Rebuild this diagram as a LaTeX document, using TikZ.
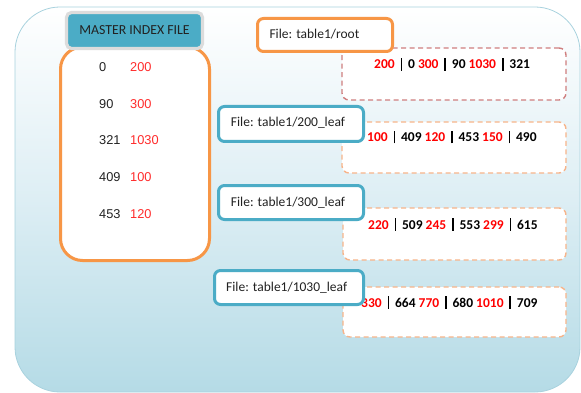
\documentclass[tikz,border=0pt]{standalone}
\usepackage{fontspec}
\setmainfont{Carlito}
\newfontfamily\numfont{Liberation Sans}
\usetikzlibrary{shadows}
\definecolor{orng}{HTML}{F79646}
\definecolor{blu}{HTML}{4BACC6}
\definecolor{bgblue}{HTML}{B5DBE6}
\definecolor{bgmid}{HTML}{DDEEF4}
\definecolor{bgline}{HTML}{A8D2DE}
\definecolor{rd}{HTML}{FF0000}
\definecolor{mrd}{HTML}{FF2A2A}
\definecolor{dashred}{HTML}{CF7E7E}
\definecolor{dashorng}{HTML}{F7B48A}
\definecolor{hdrgray}{HTML}{DCDCDC}
\definecolor{txt}{HTML}{222222}
\newcommand\myvbar{\hspace{2.8pt}\rule[-1.8pt]{1.7pt}{12.5pt}\hspace{2.8pt}}
\tikzset{
  filebox/.style={draw=blu, line width=3pt, fill=white, rounded corners=6pt, inner sep=0pt},
  rootbox/.style={draw=orng, line width=3pt, fill=white, rounded corners=6pt, inner sep=0pt},
  dashbox/.style={line width=1.4pt, dash pattern=on 5pt off 3.5pt, fill=white, rounded corners=7pt, inner sep=0pt},
  lbl/.style={anchor=base west, inner sep=0pt, font=\fontsize{13.5}{15}\selectfont, text=txt},
  nums/.style={anchor=base west, inner sep=0pt, font=\fontsize{13.5}{15}\selectfont\bfseries, text=black},
  mnum/.style={anchor=base west, inner sep=0pt, font=\numfont\fontsize{12.8}{14}\selectfont, text=txt},
  mred/.style={anchor=base west, inner sep=0pt, font=\numfont\fontsize{12.8}{14}\selectfont, text=mrd},
}
\begin{document}
\begin{tikzpicture}[x=1pt,y=-1pt]
\useasboundingbox (0,0) rectangle (581,393);
% background
\path[draw=bgline, line width=0.8pt, top color=white, bottom color=bgblue, middle color=bgmid, rounded corners=45pt]
  (15,7) rectangle (580,392);
% master index
\node[name=master, draw=orng, line width=3pt, fill=white, rounded corners=22pt, minimum width=149pt, minimum height=213.5pt, inner sep=0pt] at (135,153.75) {};
\node[name=header, draw=hdrgray, line width=3.2pt, fill=blu, rounded corners=5pt, minimum width=136pt, minimum height=36pt, inner sep=0pt,
  drop shadow={opacity=0.25, shadow xshift=0.8pt, shadow yshift=-1.2pt}] at (134.5,30.5) {};
\node[name=headertext, anchor=base, inner sep=0pt, font=\fontsize{13.8}{15}\selectfont, text=txt] at (134.5,35) {MASTER INDEX FILE};
\node[mnum, name=ma] at (99,72) {0};
\node[mred, name=mb] at (130,72) {200};
\node[mnum, name=mc] at (99,108.5) {90};
\node[mred, name=md] at (130,108.5) {300};
\node[mnum, name=me] at (99,145) {321};
\node[mred, name=mf] at (130,145) {1030};
\node[mnum, name=mg] at (99,181.5) {409};
\node[mred, name=mh] at (130,181.5) {100};
\node[mnum, name=mi] at (99,218) {453};
\node[mred, name=mj] at (130,218) {120};
% dashed boxes
\node[dashbox, draw=dashred, name=rootd, minimum width=224pt, minimum height=52pt] at (454,74) {};
\node[dashbox, draw=dashorng, name=d200, minimum width=224pt, minimum height=51pt] at (454,147.5) {};
\node[dashbox, draw=dashorng, name=d300, minimum width=223pt, minimum height=52pt] at (454.5,234) {};
\node[dashbox, draw=dashorng, name=d1030, minimum width=223pt, minimum height=50pt] at (454.5,312) {};
\node[nums, name=rootn] at (374,69) {\textcolor{rd}{200} \myvbar{} 0 \textcolor{rd}{300} \myvbar{} 90 \textcolor{rd}{1030} \myvbar{} 321};
\node[nums, name=n200] at (367,141.5) {\textcolor{rd}{100} \myvbar{} 409 \textcolor{rd}{120} \myvbar{} 453 \textcolor{rd}{150} \myvbar{} 490};
\node[nums, name=n300] at (368,229) {\textcolor{rd}{220} \myvbar{} 509 \textcolor{rd}{245} \myvbar{} 553 \textcolor{rd}{299} \myvbar{} 615};
\node[nums, name=n1030] at (361,307) {\textcolor{rd}{330} \myvbar{} 664 \textcolor{rd}{770} \myvbar{} 680 \textcolor{rd}{1010} \myvbar{} 709};
% file boxes
\node[rootbox, name=rootf, minimum width=135pt, minimum height=33pt] at (325,35) {};
\node[lbl, name=rootl] at (269.3,39) {File: table1/root};
\node[filebox, name=f200, minimum width=145pt, minimum height=35pt] at (291,124) {};
\node[lbl, name=l200] at (230.7,127) {File: table1/200\_leaf};
\node[filebox, name=f300, minimum width=145pt, minimum height=34pt] at (291,202.5) {};
\node[lbl, name=l300] at (230.7,206) {File: table1/300\_leaf};
\node[filebox, name=f1030, minimum width=149pt, minimum height=34pt] at (289,287.5) {};
\node[lbl, name=l1030] at (226,291) {File: table1/1030\_leaf};
\end{tikzpicture}
\end{document}
